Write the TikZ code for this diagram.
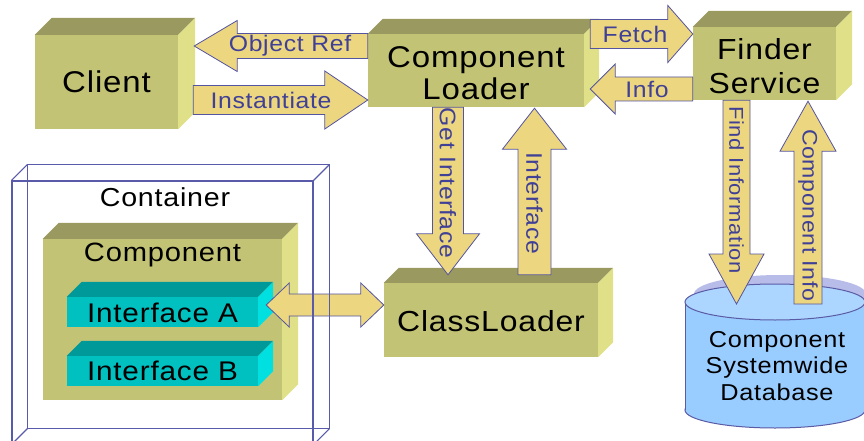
\documentclass[tikz,border=0pt]{standalone}
\usepackage{fontspec}
\setmainfont{Liberation Sans}[FakeStretch=1.1,LetterSpace=3]
\usetikzlibrary{calc}
\definecolor{ofront}{RGB}{195,195,118}
\definecolor{otop}{RGB}{153,153,96}
\definecolor{oside}{RGB}{224,224,136}
\definecolor{cfront}{RGB}{0,192,192}
\definecolor{ctop}{RGB}{0,153,153}
\definecolor{cside}{RGB}{0,224,224}
\definecolor{afill}{RGB}{236,214,128}
\definecolor{aline}{RGB}{84,84,160}
\definecolor{atext}{RGB}{64,64,150}
\definecolor{dbbody}{RGB}{153,204,255}
\definecolor{dbtopc}{RGB}{172,214,255}
\definecolor{dblav}{RGB}{184,188,232}
\definecolor{dbline}{RGB}{90,90,165}
\definecolor{contc}{RGB}{90,90,170}
\newcommand\fsz[2]{\fontsize{#1}{#2}\selectfont}
% style, name, x, y, w, h, depth, text-node options, text
\newcommand\cubenode[9]{%
  \node[#1, minimum width=#5pt, minimum height=#6pt] (#2) at (#3,#4) {};
  \fill[#1 top] (#2.north west) -- ++(#7,-#7) -- ([shift={(#7,-#7)}]#2.north east) -- (#2.north east) -- cycle;
  \fill[#1 side] (#2.north east) -- ++(#7,-#7) -- ([shift={(#7,-#7)}]#2.south east) -- (#2.south east) -- cycle;
  \node[boxtext, #8] (#2-text) at (#2.center) {#9};
}
\tikzset{
  olive/.style={fill=ofront, inner sep=0pt},
  olive top/.style={fill=otop},
  olive side/.style={fill=oside},
  ifbox/.style={fill=cfront, inner sep=0pt},
  ifbox top/.style={fill=ctop},
  ifbox side/.style={fill=cside},
  boxtext/.style={inner sep=0pt, align=center, text=black},
  arrowbox/.style={fill=afill, draw=aline, line width=0.8pt, line join=miter},
  barrow/.style n args={3}{to path={
    ($(\tikztotarget)!#3!(\tikztostart)$) coordinate (bac)
    ($(\tikztostart)!#1!90:(\tikztotarget)$) -- ($(bac)!#1!90:(\tikztotarget)$)
    -- ($(bac)!#2!90:(\tikztotarget)$) -- (\tikztotarget)
    -- ($(bac)!#2!-90:(\tikztotarget)$) -- ($(bac)!#1!-90:(\tikztotarget)$)
    -- ($(\tikztostart)!#1!-90:(\tikztotarget)$) -- cycle}},
  dbarrow/.style n args={3}{to path={
    ($(\tikztostart)!#3!(\tikztotarget)$) coordinate (dac)
    ($(\tikztotarget)!#3!(\tikztostart)$) coordinate (dbc)
    (\tikztostart) -- ($(dac)!#2!90:(\tikztotarget)$) -- ($(dac)!#1!90:(\tikztotarget)$)
    -- ($(dbc)!#1!90:(\tikztotarget)$) -- ($(dbc)!#2!90:(\tikztotarget)$) -- (\tikztotarget)
    -- ($(dbc)!#2!-90:(\tikztotarget)$) -- ($(dbc)!#1!-90:(\tikztotarget)$)
    -- ($(dac)!#1!-90:(\tikztotarget)$) -- ($(dac)!#2!-90:(\tikztotarget)$) -- cycle}},
  lbl/.style={text=atext, inner sep=0pt, font=\fsz{22.5}{24}},
  vlbl/.style={lbl, rotate=-90},
  contline/.style={draw=contc, line width=1.1pt},
  dbl/.style={draw=dbline, line width=1pt},
}
\begin{document}
\begin{tikzpicture}[x=1pt,y=-1pt]
\path[use as bounding box] (0,0) rectangle (864,441);
\clip (0,0) rectangle (864,441);
\fill[white] (0,0) rectangle (864,441);

% boxes
\cubenode{olive}{client}{106.5}{82}{143}{94}{17}{font=\fsz{30}{32}}{Client}
\cubenode{olive}{cl}{476}{70.5}{216}{73}{15}{font=\fsz{30}{32}, yshift=-3pt}{Component\\Loader}
\cubenode{olive}{finder}{764.5}{63.5}{143}{73}{16}{font=\fsz{29}{34}, yshift=-2.5pt}{Finder\\Service}
\cubenode{olive}{classloader}{491}{320}{214}{74}{15}{font=\fsz{29}{32}, yshift=-1pt}{ClassLoader}
\cubenode{olive}{component}{162.5}{319.5}{239}{161}{16}{font=\fsz{26.5}{28}, yshift=64.5pt}{Component}
\cubenode{ifbox}{ifa}{162.5}{312}{191}{30}{15}{font=\fsz{27}{29}, yshift=-1pt}{Interface A}
\cubenode{ifbox}{ifb}{162.5}{371}{191}{30}{15}{font=\fsz{27}{29}}{Interface B}

% database cylinder
\coordinate (dbtop) at (775,302);
\fill[dbbody] (775,410) ellipse[x radius=90, y radius=18];
\draw[dbl] (775,410) ellipse[x radius=90, y radius=18];
\fill[dbbody] (685,302) rectangle (865,410);
\draw[dbl] (685,302) -- (685,410) (865,302) -- (865,410);
\fill[dblav] (780,294) ellipse[x radius=86, y radius=19];
\fill[dbtopc] (dbtop) ellipse[x radius=90, y radius=18];
\draw[dbl] (dbtop) ellipse[x radius=90, y radius=18];
\node[inner sep=0pt, align=center, font=\fsz{23}{26.5}] (db) at (777,366) {Component\\Systemwide\\Database};

% arrow end points
\coordinate (orS) at ([yshift=24.5pt]cl.west);
\coordinate (orE) at ([xshift=16pt,yshift=36pt]client.east);
\coordinate (inS) at ([xshift=15pt,yshift=-18pt]client.east);
\coordinate (inE) at ([yshift=-29.5pt]cl.west);
\coordinate (feS) at ([xshift=6pt,yshift=36.5pt]cl.east);
\coordinate (feE) at ([yshift=29.5pt]finder.west);
\coordinate (ifS) at ([yshift=-25.5pt]finder.west);
\coordinate (ifE) at ([xshift=6pt,yshift=-18.5pt]cl.east);
\coordinate (giS) at ([xshift=-28pt]cl.south);
\coordinate (giE) at ([xshift=-43pt,yshift=8pt]classloader.north);
\coordinate (itS) at ([xshift=43.5pt,yshift=8pt]classloader.north);
\coordinate (itE) at ([xshift=58.5pt,yshift=-1pt]cl.south);
\coordinate (fiS) at ([xshift=-28pt]finder.south);
\coordinate (fiE) at ([xshift=-38.5pt,yshift=-2pt]dbtop);
\coordinate (ciS) at ([xshift=33pt,yshift=-2pt]dbtop);
\coordinate (ciE) at ([xshift=43.5pt,yshift=-1pt]finder.south);
\coordinate (daS) at ([xshift=8pt,yshift=7pt]ifa.east);
\coordinate (daE) at ([yshift=15pt]classloader.west);

% block arrows
\draw[arrowbox] (orS) to[barrow={12.5pt}{25.5pt}{43pt}] (orE);
\draw[arrowbox] (inS) to[barrow={14.5pt}{29pt}{43pt}] (inE);
\draw[arrowbox] (feS) to[barrow={14.5pt}{28.5pt}{25pt}] (feE);
\draw[arrowbox] (ifS) to[barrow={12pt}{25pt}{25pt}] (ifE);
\draw[arrowbox] (giS) to[barrow={15.5pt}{31.5pt}{41pt}] (giE);
\draw[arrowbox] (itS) to[barrow={16.5pt}{32pt}{41pt}] (itE);
\draw[arrowbox] (fiS) to[barrow={13.5pt}{27.5pt}{50pt}] (fiE);
\draw[arrowbox] (ciS) to[barrow={14pt}{28pt}{50pt}] (ciE);
\draw[arrowbox] (daS) to[dbarrow={11pt}{22pt}{23pt}] (daE);

% arrow labels
\node[lbl] (lOR) at (290,46) {Object Ref};
\node[lbl] (lIn) at (271,100) {Instantiate};
\node[lbl] (lFe) at (635,34) {Fetch};
\node[lbl] (lInfo) at (647,89) {Info};
\node[vlbl] (lGI) at (448,183) {Get Interface};
\node[vlbl] (lIf) at (534.5,203) {Interface};
\node[vlbl, font=\fsz{20}{22}] (lFI) at (736.5,190) {Find Information};
\node[vlbl, font=\fsz{21}{23}] (lCI) at (808,215) {Component Info};

% container wireframe
\node[contline, minimum width=301pt, minimum height=263pt, inner sep=0pt] (container) at (162.5,312.5) {};
\draw[contline] ([shift={(16,-16)}]container.south west) rectangle ([shift={(16,-16)}]container.north east);
\draw[contline] (container.north west) -- ++(16,-16)
  (container.north east) -- ++(16,-16)
  (container.south west) -- ++(16,-16)
  (container.south east) -- ++(16,-16);
\node[inner sep=0pt, font=\fsz{26}{28}] (contlbl) at (165,197) {Container};
\end{tikzpicture}
\end{document}
